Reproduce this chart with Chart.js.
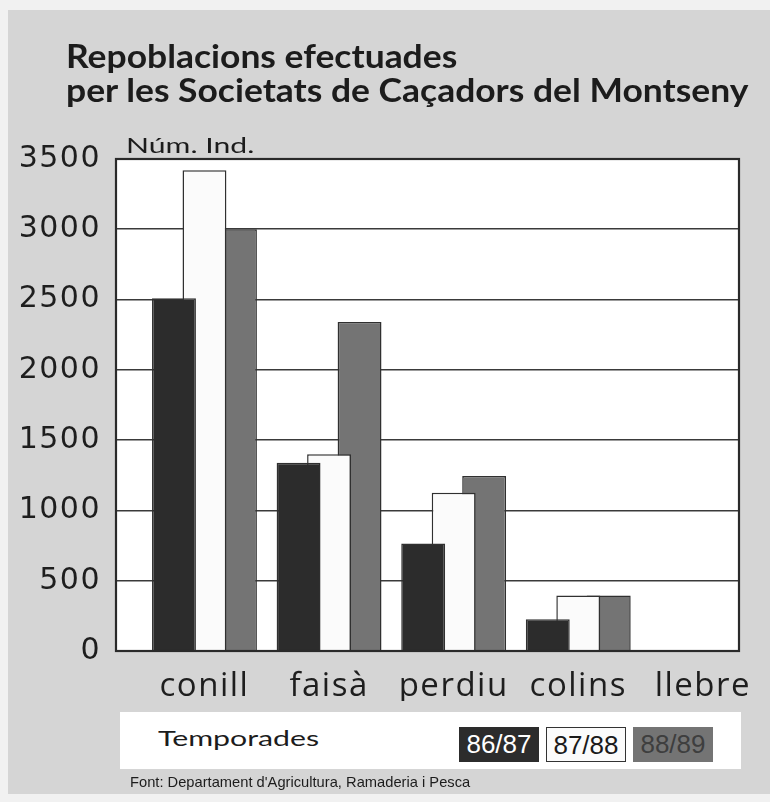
<!DOCTYPE html>
<html>
<head>
<meta charset="utf-8">
<script src="https://cdn.jsdelivr.net/npm/chart.js@4.4.1/dist/chart.umd.min.js"></script>
<style>
    html, body { margin: 0; padding: 0; background: #f1f1f1; }
    #page { position: relative; width: 770px; height: 802px; overflow: hidden; }
    #panel { position: absolute; left: 8px; top: 10px; right: 0; bottom: 8px; background: #d5d5d5; }
    #chart { position: absolute; left: 0; top: 0; }
    .txt { position: absolute; display: inline-block; white-space: nowrap; transform-origin: 0 0; color: #1c1c1c; }
    #title { left: 66px; top: 38px; font: 700 33px/34px Lato, sans-serif; }
    #unit { left: 126px; top: 134px; font: 400 22px/22px Lato, sans-serif; }
    #legendBox { position: absolute; left: 120px; top: 712px; width: 621px; height: 57px; background: #ffffff; }
    #legendTitle { left: 158px; top: 727px; font: 400 22px/22px Lato, sans-serif; }
    #legendItems { position: absolute; left: 459px; top: 727px; display: flex; gap: 7px; }
    .season { box-sizing: border-box; width: 80px; height: 35px; font: 400 26px/35px "Liberation Sans", Arial, sans-serif; text-align: center; }
    #source { left: 130px; top: 774px; font: 400 15px/16px "Liberation Sans Narrow", "Liberation Sans", sans-serif; }
</style>
</head>
<body>
<div id="page">
    <div id="panel"></div>
    <canvas id="chart" width="770" height="802"></canvas>
    <div id="title" class="txt">Repoblacions efectuades<br>per les Societats de Caçadors del Montseny</div>
    <div id="unit" class="txt">Núm. Ind.</div>
    <div id="legendBox"></div>
    <div id="legendTitle" class="txt">Temporades</div>
    <div id="legendItems"></div>
    <div id="source" class="txt">Font: Departament d'Agricultura, Ramaderia i Pesca</div>
</div>
<script>
// ---- data ----
const categories = ['conill', 'faisà', 'perdiu', 'colins', 'llebre'];
const seasons = ['86/87', '87/88', '88/89'];
const values8687 = [2510, 1340, 765, 225, 0];
const values8788 = [3420, 1400, 1125, 395, 0];
const values8889 = [3000, 2340, 1245, 395, 0];
const yMin = 0;
const yMax = 3500;
const yStep = 500;

// ---- styles ----
const barColors = ['#2c2c2c', '#fbfbfb', '#747474'];
const legendTextColors = ['#ffffff', '#1a1a1a', '#3e3e3e'];
const seriesValues = [values8687, values8788, values8889];

// stretch a text block to the width it has in the scan
function fitWidth(id, width) {
    const el = document.getElementById(id);
    el.style.transform = 'scaleX(' + (width / el.offsetWidth) + ')';
}

// legend built from the season list
const legendItems = document.getElementById('legendItems');
seasons.forEach((s, i) => {
    const box = document.createElement('div');
    box.className = 'season';
    box.textContent = s;
    box.style.background = barColors[i];
    box.style.color = legendTextColors[i];
    if (i === 1) box.style.border = '1.5px solid #333';
    legendItems.appendChild(box);
});

fitWidth('title', 682);
fitWidth('unit', 129);
fitWidth('legendTitle', 161);
fitWidth('source', 340);

// white plot area + dark frame, like the printed figure
const plotFrame = {
    id: 'plotFrame',
    beforeDraw(chart) {
        const { ctx, chartArea: a } = chart;
        ctx.save();
        ctx.fillStyle = '#ffffff';
        ctx.fillRect(a.left, a.top, a.right - a.left, a.bottom - a.top);
        ctx.restore();
        ctx.letterSpacing = '1.5px';
    },
    afterDatasetsDraw(chart) {
        const { ctx, chartArea: a } = chart;
        ctx.save();
        ctx.strokeStyle = '#2a2a2a';
        ctx.lineWidth = 2.2;
        ctx.strokeRect(a.left, a.top, a.right - a.left, a.bottom - a.top);
        ctx.restore();
    }
};

new Chart(document.getElementById('chart'), {
    type: 'bar',
    data: {
        datasets: seasons.map((s, i) => ({
            label: s,
            data: categories.map((c, j) => ({ x: j, y: seriesValues[i][j] })),
            backgroundColor: barColors[i],
            borderColor: '#303030',
            borderWidth: 1.5,
            borderSkipped: 'start',
            categoryPercentage: 0.734,
            barPercentage: 1.44
        }))
    },
    options: {
        responsive: false,
        animation: false,
        events: [],
        layout: { padding: { left: 0, top: 159, right: 31, bottom: 101 } },
        plugins: {
            legend: { display: false },
            tooltip: { enabled: false }
        },
        scales: {
            x: {
                type: 'linear',
                bounds: 'data',
                offset: false,
                min: -0.71,
                max: 4.29,
                afterBuildTicks: (scale) => {
                    scale.ticks = categories.map((c, i) => ({ value: i }));
                },
                afterFit: (scale) => { scale.height = 50; },
                grid: { display: false },
                border: { display: false },
                ticks: {
                    autoSkip: false,
                    maxRotation: 0,
                    padding: 8,
                    color: '#1e1e1e',
                    font: { family: 'Open Sans', size: 33 },
                    callback: (v) => categories[v]
                }
            },
            y: {
                min: yMin,
                max: yMax,
                afterFit: (scale) => { scale.width = 116; },
                grid: { color: '#3a3a3a', lineWidth: 1.6, drawTicks: false },
                border: { display: false },
                ticks: {
                    stepSize: yStep,
                    padding: 15,
                    color: '#1e1e1e',
                    font: { family: 'DejaVu Sans', size: 30 },
                    callback: (v) => String(v)
                }
            }
        }
    },
    plugins: [plotFrame]
});
</script>
</body>
</html>
